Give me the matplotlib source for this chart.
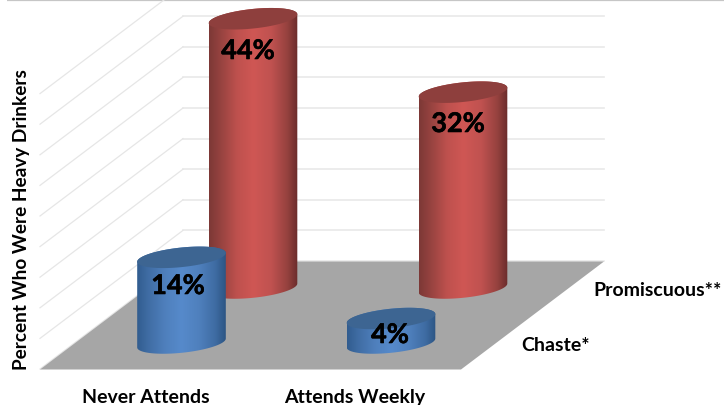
import numpy as np
import matplotlib
matplotlib.use("Agg")
import matplotlib.pyplot as plt
from matplotlib.colors import LinearSegmentedColormap
from matplotlib.patches import Polygon
import matplotlib.patheffects as pe

categories = ["Never Attends", "Attends Weekly"]
series_names = ["Chaste*", "Promiscuous**"]
chaste = [14, 4]
promiscuous = [44, 32]
grid_values = [0, 5, 10, 15, 20, 25, 30, 35, 40, 45]
y_title = "Percent Who Were Heavy Drinkers"

W, H = 724, 406
PX = 6.12                      # pixels per percentage point
BACK_Y = 262                   # pixel row of the floor's back edge


def yp(pixel_row):
    """Pixel row -> data units (percent above the floor's back edge)."""
    return (BACK_Y - pixel_row) / PX


fig = plt.figure(figsize=(W / 100, H / 100), dpi=100)
ax = fig.add_axes([0, 0, 1, 1])
ax.set_axis_off()
plt.rcParams["font.family"] = ["Lato", "DejaVu Sans"]

# Frame line at the very top
ax.plot([7, W], [yp(0.8), yp(0.8)], color="#c6c6c6", lw=1.6, zorder=1, solid_capstyle="butt")

# Walls
WALL_L, WALL_B, WALL_R = 40, 183, 604
for g in grid_values:
    ax.plot([WALL_B, WALL_R], [g, g], color="#e9e9e9", lw=1.2, zorder=1)
    ax.plot([WALL_L, WALL_B], [g + yp(370), g], color="#e6e6e6", lw=0.9, zorder=1)

# Floor
floor = Polygon([(40, yp(370.5)), (461, yp(370.5)), (604, yp(262.5)), (183, yp(262.5))],
                closed=True, fc="#a6a6a6", ec="none", zorder=2)
ax.add_patch(floor)

red_cmap = LinearSegmentedColormap.from_list(
    "r", [(0, "#7c3836"), (0.12, "#94423f"), (0.32, "#bf514e"), (0.5, "#cf5754"),
          (0.7, "#c05250"), (0.88, "#96423f"), (1, "#6a2c2b")])
blue_cmap = LinearSegmentedColormap.from_list(
    "b", [(0, "#315c8f"), (0.12, "#3f6ca3"), (0.32, "#4f80bd"), (0.5, "#568acb"),
          (0.7, "#4f80bd"), (0.88, "#3f6ca3"), (1, "#2c5583")])


def cylinder(cx, base_row, value, cmap, top_color, z):
    a, b, tilt = 44.3, 9.8, -0.1
    base = yp(base_row)
    t = np.linspace(0, 2 * np.pi, 121)
    ex = a * np.cos(t)
    ey = (b * np.sin(t) - tilt * a * np.cos(t)) / PX
    lower = (t >= np.pi) & (t <= 2 * np.pi)
    upper_arc = (t <= np.pi)
    body_x = np.r_[cx + ex[lower], cx + ex[upper_arc]]
    body_y = np.r_[base + ey[lower], base + value + ey[upper_arc]]
    clip = Polygon(np.c_[body_x, body_y], closed=True, fc="none", ec="none",
                   transform=ax.transData, zorder=z)
    ax.add_patch(clip)
    grad = np.linspace(0, 1, 256).reshape(1, -1)
    im = ax.imshow(grad, extent=(cx - a, cx + a, base - 3, base + value + 3),
                   cmap=cmap, aspect="auto", zorder=z, interpolation="bilinear")
    im.set_clip_path(clip)
    ax.add_patch(Polygon(np.c_[cx + ex, base + value + ey], closed=True,
                         fc=top_color, ec="none", zorder=z + 0.1))


BACK_ROW, FRONT_ROW = 289, 344
BACK_X = [253, 463]
FRONT_X = [181.5, 391]

for cx, v in zip(BACK_X, promiscuous):
    cylinder(cx, BACK_ROW, v, red_cmap, "#8e3f3d", 4)
for cx, v in zip(FRONT_X, chaste):
    cylinder(cx, FRONT_ROW, v, blue_cmap, "#3d6592", 6)

bold = [pe.withStroke(linewidth=0.4, foreground="black")]
LABEL = dict(color="black", fontweight="bold", fontsize=19.5, ha="center", va="center",
             zorder=9, path_effects=bold)
for cx, v, row in zip(BACK_X, promiscuous, (52, 125)):
    ax.text(cx - 5, yp(row), f"{v}%", **LABEL)
for cx, v, row, dx in zip(FRONT_X, chaste, (287, 336), (-3.5, -1)):
    ax.text(cx + dx, yp(row), f"{v}%", **LABEL)

AX_FONT = dict(color="black", fontweight="bold", fontsize=14, va="center", zorder=9)
ax.text(146, yp(397.5), categories[0], ha="center", **AX_FONT)
ax.text(355, yp(397.5), categories[1], ha="center", **AX_FONT)
ax.text(593, yp(291), series_names[1], ha="left", **AX_FONT)
ax.text(521, yp(346), series_names[0], ha="left", **AX_FONT)
ax.text(22, yp(220), y_title, rotation=90, ha="center", color="black", fontweight="bold",
        fontsize=13.7, va="center", zorder=9)

ax.set_xlim(0, W)
ax.set_ylim(yp(H), yp(0))
fig.savefig("out.png", dpi=100, facecolor="white")
